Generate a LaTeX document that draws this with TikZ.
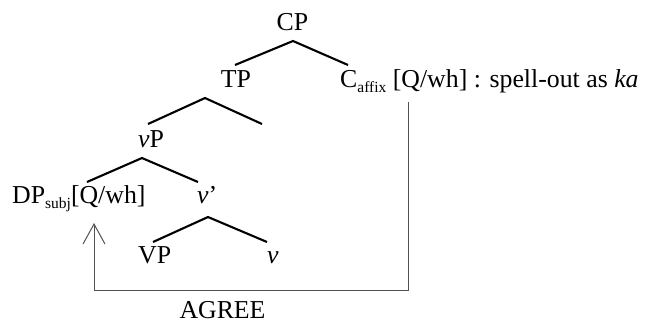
\documentclass[tikz,border=0pt]{standalone}
\usepackage{fontspec}
\setmainfont{Liberation Serif}
\usetikzlibrary{arrows.meta}
\newcommand{\lsub}[1]{\raisebox{-5.5pt}{\fontsize{15.5}{15.5}\selectfont #1}}
\begin{document}
\begin{tikzpicture}[x=1pt,y=-1pt,
  lab/.style={inner sep=0pt,font=\fontsize{25.8}{30}\selectfont},
  branch/.style={line width=2.1pt,black},
  agree/.style={line width=1pt,draw=black!68,-{Straight Barb[length=20pt,width=22pt,line width=1pt]}}]
\useasboundingbox (0,0) rectangle (647,322);
% labels
\node[lab,anchor=base] (cp) at (292.5,30) {CP};
\node[lab,anchor=base] (tp) at (236,87) {TP};
\node[lab,anchor=base west] (caff) at (340,87) {C\lsub{affix} [Q/wh] : spell-out as \textit{ka}};
\node[lab,anchor=base west] (vp) at (138,147) {\textit{v}P};
\node[lab,anchor=base west] (dp) at (12,203) {DP\lsub{subj}[Q/wh]};
\node[lab,anchor=base west] (vbar) at (197,203) {\textit{v}’};
\node[lab,anchor=base west] (bigvp) at (138,263) {VP};
\node[lab,anchor=base west] (v) at (267,263) {\textit{v}};
\node[lab,anchor=base] (agr) at (222.5,318) {AGREE};
% branches
\coordinate (cpA) at (293,41); \coordinate (cpL) at (235,65); \coordinate (cpR) at (348,65);
\coordinate (tpA) at (205,98); \coordinate (tpL) at (148,124); \coordinate (tpR) at (262,124);
\coordinate (vpA) at (142,158); \coordinate (vpL) at (87,182); \coordinate (vpR) at (198,182);
\coordinate (vbA) at (208,217); \coordinate (vbL) at (153,242); \coordinate (vbR) at (267,242);
\draw[branch] (cpL) -- (cpA) -- (cpR);
\draw[branch] (tpL) -- (tpA) -- (tpR);
\draw[branch] (vpL) -- (vpA) -- (vpR);
\draw[branch] (vbL) -- (vbA) -- (vbR);
% agree connector
\coordinate (s) at (408.5,102);
\coordinate (c1) at (408.5,290.5);
\coordinate (c2) at (94,290.5);
\coordinate (t) at (94,223);
\draw[agree] (s) -- (c1) -- (c2) -- (t);
\end{tikzpicture}
\end{document}
